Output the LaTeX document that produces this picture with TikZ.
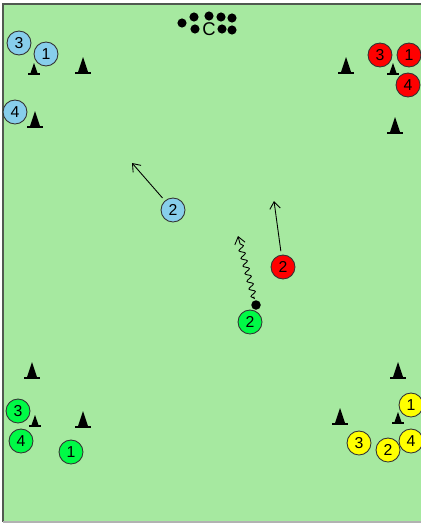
\documentclass[tikz,border=0pt]{standalone}
\usepackage{fontspec}
\setmainfont{Liberation Sans}
\usetikzlibrary{arrows.meta,decorations.pathmorphing}
\definecolor{PitchGreen}{RGB}{166,233,160}
\definecolor{PitchLine}{RGB}{80,90,80}
\definecolor{TeamBlue}{RGB}{135,206,235}
\definecolor{TeamRed}{RGB}{255,0,0}
\definecolor{TeamGreen}{RGB}{0,250,70}
\definecolor{TeamYellow}{RGB}{255,255,0}

\begin{document}
\begin{tikzpicture}[x=0.02cm,y=-0.02cm,>={Straight Barb[length=4pt,width=6pt]}]
        \tikzset{player/.style={circle,draw=black!80,line width=0.5pt,minimum size=0.48cm,inner sep=0pt,font=\fontsize{9}{10}\selectfont},ball/.style={circle,fill=black,minimum size=0.19cm,inner sep=0pt},bigcone/.pic={\fill (-8,0) rectangle (8,-2); \fill (-5,-2) -- (-1,-14) -- (0,-17) -- (1,-14) -- (5,-2) -- cycle;},smallcone/.pic={\fill (-6,0) rectangle (6,-2); \fill (-3.5,-2) -- (-0.7,-10) -- (0,-12) -- (0.7,-10) -- (3.5,-2) -- cycle;}}
        \useasboundingbox (0,0) rectangle (421,524);
        \fill[PitchGreen] (3,4) rectangle (421,522);
        \draw[PitchLine,line width=0.8pt] (421,4) -- (3,4) -- (3,522);
        \draw[black!30,line width=0.6pt] (3,522) -- (421,522);
        % coach and balls
        \foreach \x/\y in {182/23,194/17,195/29,209/16,221/17,232/18,222/29,232/30}{\fill (\x,\y) circle (2.6pt);}
        \node[font=\fontsize{10.5}{12}\selectfont] (coach) at (209,29) {C};
        % cones
        \foreach \x/\y in {83/74,35/128,346/74,395/134,32/379,83/428,398/379,340/425}{\pic at (\x,\y) {bigcone};}
        \foreach \x/\y in {34/75,393/75,35/427,398/424}{\pic at (\x,\y) {smallcone};}
        % blue team
        \node[player,fill=TeamBlue] (b3) at (19,43) {3};
        \node[player,fill=TeamBlue] (b1) at (46,54) {1};
        \node[player,fill=TeamBlue] (b4) at (15,112) {4};
        \node[player,fill=TeamBlue] (b2) at (173,210) {2};
        % red team
        \node[player,fill=TeamRed] (r3) at (380,55) {3};
        \node[player,fill=TeamRed] (r1) at (409,55) {1};
        \node[player,fill=TeamRed] (r4) at (408,85) {4};
        \node[player,fill=TeamRed] (r2) at (283,267) {2};
        % green team
        \node[player,fill=TeamGreen] (g3) at (18,411) {3};
        \node[player,fill=TeamGreen] (g4) at (21,441) {4};
        \node[player,fill=TeamGreen] (g1) at (71,452) {1};
        \node[player,fill=TeamGreen] (g2) at (250,322) {2};
        \node[ball] (pball) at (256,305) {};
        % yellow team
        \node[player,fill=TeamYellow] (y1) at (411,405) {1};
        \node[player,fill=TeamYellow] (y4) at (411,441) {4};
        \node[player,fill=TeamYellow] (y2) at (388,450) {2};
        \node[player,fill=TeamYellow] (y3) at (359,443) {3};
        % runs
        \coordinate (b2run) at (132,163);
        \coordinate (r2run) at (274,201);
        \coordinate (g2drib) at (238,236);
        \draw[->,line width=0.5pt,shorten <=2pt] (b2) -- (b2run);
        \draw[->,line width=0.5pt,shorten <=2pt] (r2) -- (r2run);
        \draw[->,line width=0.5pt,shorten <=2pt,decorate,decoration={snake,amplitude=1.6pt,segment length=4.5pt,pre length=1pt,post length=3pt}] (pball) -- (g2drib);
      \end{tikzpicture}
\end{document}
